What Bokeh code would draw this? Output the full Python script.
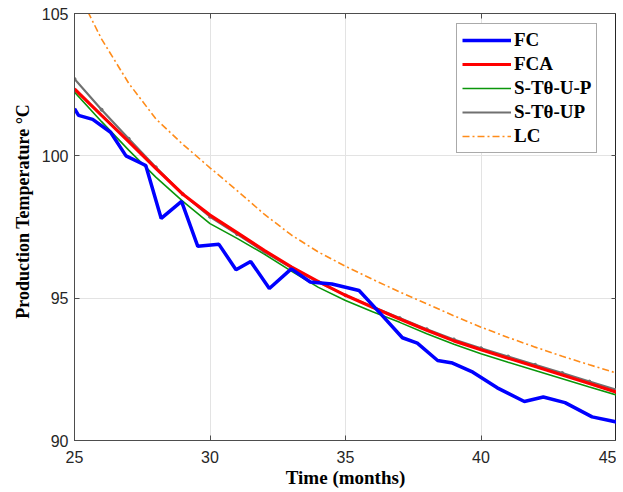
from bokeh.plotting import figure
from bokeh.models import Range1d, LinearAxis, Legend, LegendItem, FixedTicker
from bokeh.embed import file_html
from bokeh.resources import INLINE

# ---- data ----
months = [25, 26, 27, 28, 29, 30, 31, 32, 33, 34, 35, 36, 37, 38, 39, 40, 41, 42, 43, 44, 45]

fc_x = [25.0, 25.15, 25.67, 26.33, 26.9, 27.63, 28.2, 28.95, 29.55, 30.33, 30.96, 31.5, 32.19,
        33.0, 33.7, 34.5, 35.5, 36.3, 37.1, 37.65, 38.4, 38.95, 39.7, 40.6, 41.6, 42.3, 43.1, 44.1, 45.0]
fc_y = [101.66, 101.42, 101.28, 100.83, 100.0, 99.66, 97.8, 98.4, 96.82, 96.89, 96.0, 96.29, 95.34,
        96.03, 95.57, 95.5, 95.27, 94.45, 93.61, 93.42, 92.81, 92.72, 92.4, 91.85, 91.37, 91.53, 91.33, 90.83, 90.65]

fca_y = [102.35, 101.42, 100.5, 99.56, 98.65, 97.92, 97.3, 96.68, 96.1, 95.58, 95.1, 94.68, 94.27,
         93.87, 93.5, 93.19, 92.89, 92.6, 92.3, 92.0, 91.7]
stup_y = [102.7, 101.62, 100.6, 99.6, 98.65, 97.86, 97.25, 96.63, 96.07, 95.57, 95.1, 94.7, 94.3,
          93.91, 93.55, 93.24, 92.95, 92.66, 92.37, 92.07, 91.78]
stu_p_y = [102.24, 101.2, 100.2, 99.25, 98.4, 97.62, 97.1, 96.55, 95.95, 95.38, 94.92, 94.52, 94.15,
           93.75, 93.38, 93.05, 92.75, 92.46, 92.17, 91.88, 91.6]
lc_y = [106.0, 104.1, 102.55, 101.3, 100.4, 99.58, 98.78, 97.95, 97.22, 96.62, 96.12, 95.66, 95.22,
        94.8, 94.38, 93.98, 93.62, 93.28, 92.96, 92.66, 92.37]

x_ticks = [25, 30, 35, 40, 45]
y_ticks = [90, 95, 100, 105]

labels = ["FC", "FCA", "S-T\u03b8-U-P", "S-T\u03b8-UP", "LC"]

# ---- figure ----
p = figure(width=616, height=490, output_backend="svg", toolbar_location=None,
           x_range=Range1d(25, 45), y_range=Range1d(90, 105),
           min_border_left=74, min_border_top=13, min_border_bottom=50, min_border_right=0)
p.background_fill_color = "white"
p.border_fill_color = "white"
p.outline_line_color = "#262626"
p.outline_line_width = 1

axis_col = "#4d4d4d"
for ax in (p.xaxis[0], p.yaxis[0]):
    ax.axis_line_color = axis_col
    ax.major_tick_line_color = axis_col
    ax.major_tick_in = 5
    ax.major_tick_out = 0
    ax.minor_tick_line_color = None
    ax.major_label_text_font = "Liberation Sans"
    ax.major_label_text_font_size = "16px"
    ax.major_label_text_color = "#262626"
    ax.axis_label_text_font = "Liberation Serif"
    ax.axis_label_text_font_style = "bold"
    ax.axis_label_text_color = "black"

p.xaxis[0].axis_label_text_font_size = "19px"
p.yaxis[0].axis_label_text_font_size = "18px"
p.xaxis[0].ticker = FixedTicker(ticks=x_ticks)
p.yaxis[0].ticker = FixedTicker(ticks=y_ticks)
p.xaxis[0].axis_label = "Time (months)"
p.yaxis[0].axis_label = "\u00a0" * 7 + "Production Temperature \u00b0C"
p.xaxis[0].major_label_standoff = 10
p.xaxis[0].axis_label_standoff = 1
p.yaxis[0].major_label_standoff = 6
p.yaxis[0].axis_label_standoff = 6

p.xgrid.ticker = FixedTicker(ticks=x_ticks)
p.ygrid.ticker = FixedTicker(ticks=y_ticks)
p.grid.grid_line_color = "#e3e3e3"
p.grid.grid_line_width = 1

# ---- series ----
r_lc = p.line(months, lc_y, line_color="#ff8c1a", line_width=1.6, line_dash="7 3 2 3")
r_green = p.line(months, stu_p_y, line_color="#0a960a", line_width=1.6)
r_gray = p.line(months, stup_y, line_color="#707070", line_width=2.2)
r_gray_m = p.scatter(months, stup_y, size=3, marker="circle", fill_color="#707070", line_color="#707070")
r_red = p.line(months, fca_y, line_color="#ff0000", line_width=3.2)
r_blue = p.line(fc_x, fc_y, line_color="#0000ff", line_width=3.5)

legend = Legend(items=[
    LegendItem(label=labels[0], renderers=[r_blue]),
    LegendItem(label=labels[1], renderers=[r_red]),
    LegendItem(label=labels[2], renderers=[r_green]),
    LegendItem(label=labels[3], renderers=[r_gray]),
    LegendItem(label=labels[4], renderers=[r_lc]),
], location=(382, 287))
legend.label_text_font = "Liberation Serif"
legend.label_text_font_style = "bold"
legend.label_text_font_size = "19px"
legend.label_text_color = "black"
legend.glyph_width = 49
legend.glyph_height = 18
legend.label_height = 18
legend.label_standoff = 3
legend.spacing = 2
legend.padding = 5
legend.margin = 0
legend.border_line_color = "#555555"
legend.border_line_width = 1
legend.background_fill_color = "white"
legend.background_fill_alpha = 1
p.add_layout(legend)

# box-style ticks on top and right
top_ax = LinearAxis(ticker=FixedTicker(ticks=x_ticks), major_label_overrides={t: "" for t in x_ticks},
                    major_tick_in=5, major_tick_out=0, minor_tick_line_color=None,
                    axis_line_color=axis_col, major_tick_line_color=axis_col, major_label_standoff=0)
right_ax = LinearAxis(ticker=FixedTicker(ticks=y_ticks), major_label_overrides={t: "" for t in y_ticks},
                      major_tick_in=5, major_tick_out=0, minor_tick_line_color=None,
                      axis_line_color=axis_col, major_tick_line_color=axis_col, major_label_standoff=0)
p.add_layout(top_ax, "above")
p.add_layout(right_ax, "right")

open("out.html", "w").write(file_html(p, INLINE))
